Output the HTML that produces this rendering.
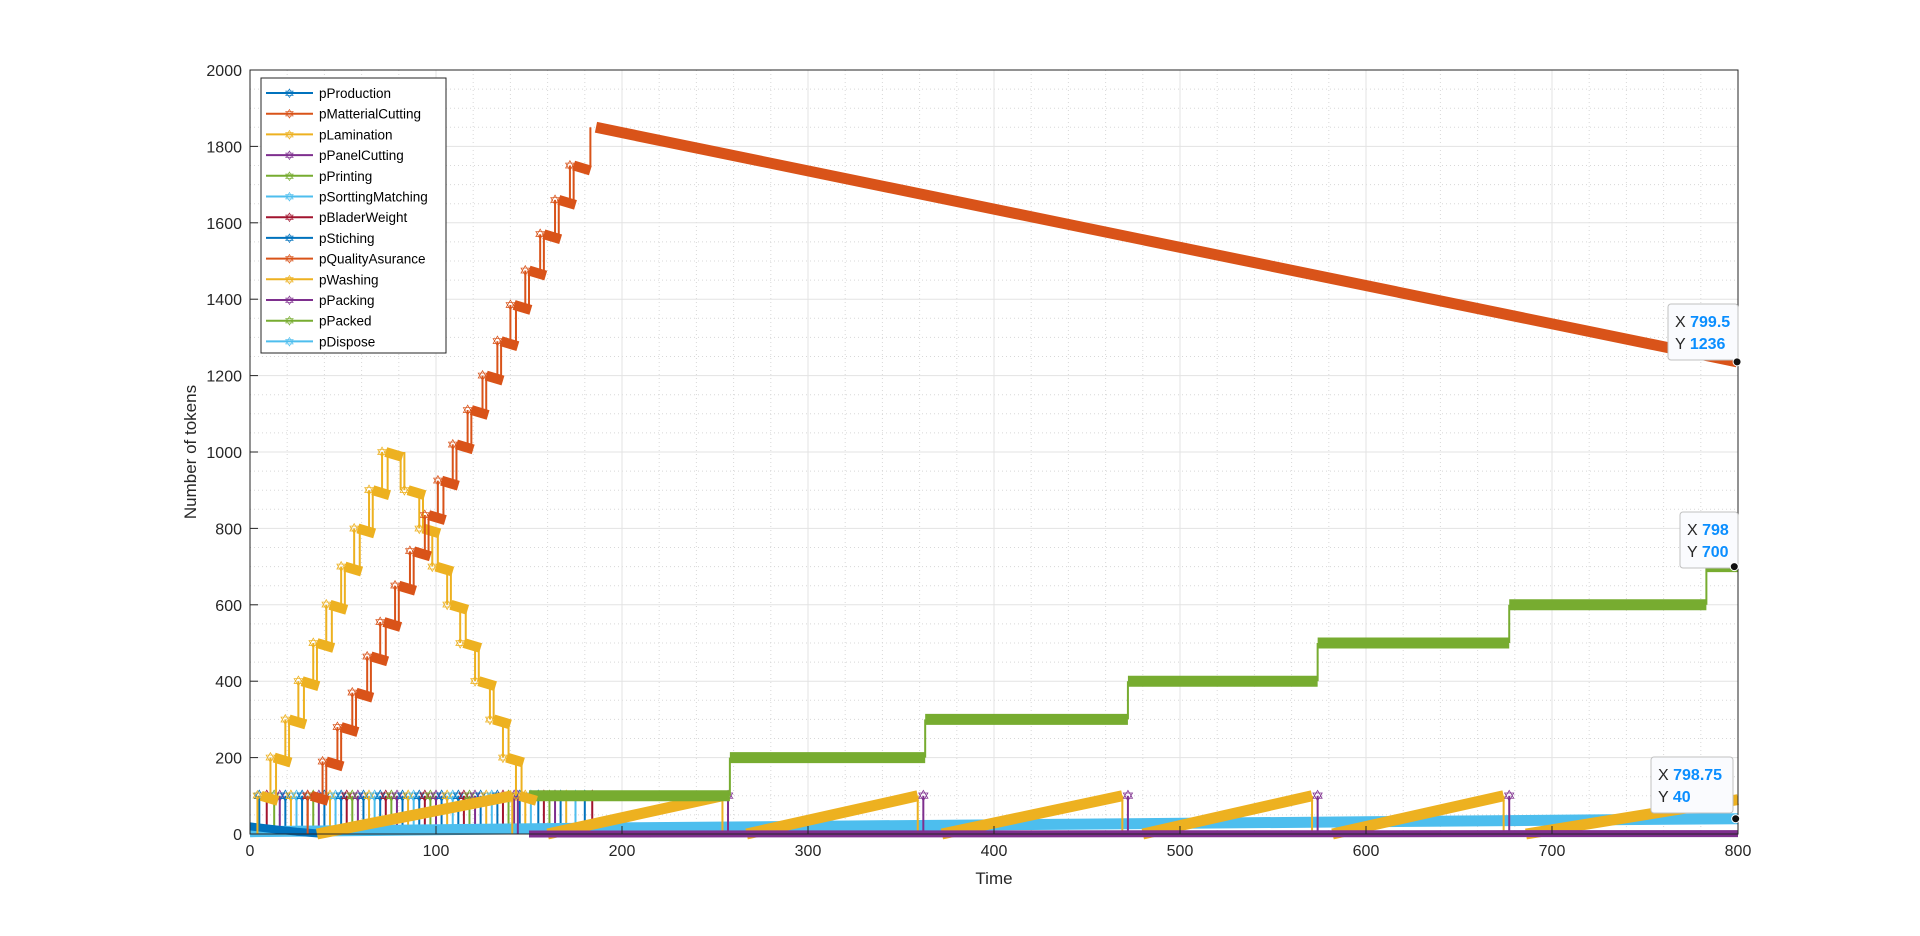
<!DOCTYPE html>
<html><head><meta charset="utf-8"><style>
html,body{margin:0;padding:0;background:#fff;width:1920px;height:936px;overflow:hidden}
svg{display:block;font-family:"Liberation Sans",sans-serif}
</style></head><body>
<svg id="chart" width="1920" height="936">
<rect x="250" y="70" width="1488" height="764" fill="#fff"/>
<g id="grid"></g><g id="series"></g><g id="axes"></g><g id="tips"></g><g id="legend"></g>
</svg>
<script>
// ---- data ----
const cutT=[32,40,48,56,64,71,79,87,95,102,110,118,126,134,141,149,157,165,173];
const cutV=[100,190,280,370,465,555,650,740,835,925,1020,1110,1200,1290,1385,1475,1570,1660,1750];
const cutPeakT=186, cutPeakV=1850, cutEndT=799.5, cutEndV=1236;
const lamT=[5,12,20,27,35,42,50,57,65,72,84,92,99,107,114,122,130,137,144];
const lamV=[100,200,300,400,500,600,700,800,900,1000,900,800,700,600,500,400,300,200,100];
const prT=[150,258,363,472,574,677,783];
const prV=[100,200,300,400,500,600,700];
const washStart=[36,160,267,372,480,582,686];
const washEnd=[141,254,359,469,571,674,800];
const washPeak=[100,100,100,100,100,100,90];
const sortT=[0,100,200,400,600,800];
const sortV=[6,11,16,24,32,40];
const packT=[150,800];
const packV=[0,1];
const prodT=[0,10,25,40];
const prodV=[20,14,6,0];
const stemT=[5,9,13,16,19,22,25,28,31,34,37,40,43,46,49,52,55,58,61,64,67,70,73,76,79,82,85,88,91,94,97,100,103,106,109,112,115,118,121,124,127,130,133,136,139,142,145,148,151,155,158,161,164,167,170,175,180,184];
const stemV=100;
const xTicks=[0,100,200,300,400,500,600,700,800];
const yTicks=[0,200,400,600,800,1000,1200,1400,1600,1800,2000];
const legendNames=["pProduction","pMatterialCutting","pLamination","pPanelCutting","pPrinting","pSorttingMatching","pBladerWeight","pStiching","pQualityAsurance","pWashing","pPacking","pPacked","pDispose"];
const legendColors=["#0072BD","#D95319","#EDB120","#7E2F8E","#77AC30","#4DBEEE","#A2142F","#0072BD","#D95319","#EDB120","#7E2F8E","#77AC30","#4DBEEE"];
const tipX=["799.5","798","798.75"];
const tipY=["1236","700","40"];
const tipT=[799.5,798,798.75];
const tipV=[1236,700,40];

const NS="http://www.w3.org/2000/svg";
const X0=250,X1=1738,Y0=834,Y1=70;
const sx=t=>X0+t*(X1-X0)/800;
const sy=v=>Y0-v*(Y0-Y1)/2000;
function mk(tag,attrs,parent){const e=document.createElementNS(NS,tag);for(const k in attrs)e.setAttribute(k,attrs[k]);parent.appendChild(e);return e;}
const grid=document.getElementById('grid'),ser=document.getElementById('series'),ax=document.getElementById('axes'),tips=document.getElementById('tips'),leg=document.getElementById('legend');

for(let t=20;t<800;t+=20){if(t%100){const l=mk('line',{x1:sx(t),x2:sx(t),y1:Y1,y2:Y0,stroke:'#d8d8d8','stroke-dasharray':'1 3'},grid);

}}
for(let v=50;v<2000;v+=50){if(v%200){const l=mk('line',{x1:X0,x2:X1,y1:sy(v),y2:sy(v),stroke:'#d8d8d8','stroke-dasharray':'1 3'},grid);

}}
xTicks.forEach(t=>{const l=mk('line',{x1:sx(t),x2:sx(t),y1:Y1,y2:Y0,stroke:'#e3e3e3'},grid);

});
yTicks.forEach(v=>{const l=mk('line',{x1:X0,x2:X1,y1:sy(v),y2:sy(v),stroke:'#e3e3e3'},grid);

});

function poly(pts,color,w,name){const p=mk('polyline',{points:pts.map(q=>q.join(',')).join(' '),fill:'none',stroke:color,'stroke-width':w,'stroke-linejoin':'round'},ser);

return p;}
function star(x,y,c,size,name){const m=mk('text',{x:x,y:y+size*0.36,'text-anchor':'middle','font-size':size,fill:c},ser);m.textContent='✡';

return m;}

const stemColors=["#0072BD","#A2142F","#77AC30","#7E2F8E","#0072BD","#EDB120","#4DBEEE"];
stemT.forEach((t,i)=>{const c=stemColors[i%stemColors.length];
const l=mk('line',{x1:sx(t),x2:sx(t),y1:sy(0),y2:sy(stemV),stroke:c,'stroke-width':2},ser);


star(sx(t),sy(stemV),c,17,'stem-marker');});

poly(sortT.map((t,i)=>[sx(t),sy(sortV[i])]),'#4DBEEE',11,'pSorttingMatching-line');
poly(prodT.map((t,i)=>[sx(t),sy(prodV[i])]),'#0072BD',8,'pProduction-line');

washStart.forEach((s,i)=>{poly([[sx(s),sy(0)],[sx(washEnd[i]),sy(washPeak[i])]],'#EDB120',11,'pWashing-ramp');
if(i<washStart.length-1){const l=mk('line',{x1:sx(washEnd[i]),x2:sx(washEnd[i]),y1:sy(washPeak[i]),y2:sy(0),stroke:'#EDB120','stroke-width':2},ser);


const l2=mk('line',{x1:sx(washEnd[i]+3),x2:sx(washEnd[i]+3),y1:sy(washPeak[i]),y2:sy(0),stroke:'#7E2F8E','stroke-width':2},ser);


star(sx(washEnd[i]+3),sy(washPeak[i]),'#7E2F8E',16,'pPacking-marker');}});

poly(packT.map((t,i)=>[sx(t),sy(packV[i])]),'#7E2F8E',7,'pPacking-line');

prT.forEach((t,i)=>{const end=i<prT.length-1?prT[i+1]:800;
poly([[sx(t),sy(prV[i])],[sx(end),sy(prV[i])]],'#77AC30',11,'pPrinting-plateau');
if(i<prT.length-1){const l=mk('line',{x1:sx(end),x2:sx(end),y1:sy(prV[i]),y2:sy(prV[i+1]),stroke:'#77AC30','stroke-width':2},ser);

}});

function stairs(T,V,color,name){T.forEach((t,i)=>{
const m=mk('line',{x1:sx(t-1),x2:sx(t-1),y1:sy(V[i]),y2:sy(i>0?V[i-1]:0),stroke:color,'stroke-width':2},ser);


const m2=mk('line',{x1:sx(t+9),x2:sx(t+9),y1:sy(V[i]),y2:sy(i<T.length-1?V[i+1]:V[i]),stroke:color,'stroke-width':2},ser);


poly([[sx(t+1),sy(V[i])],[sx(t+10),sy(V[i])+5]],color,10,name+'-plateau');
star(sx(t-1),sy(V[i]),color,15,name+'-marker');});}
stairs(lamT,lamV,'#EDB120','pLamination');
stairs(cutT,cutV.slice(0,cutT.length),'#D95319','pMatterialCutting');
const lastT=cutT[cutT.length-1]+10;
const sl=mk('line',{x1:sx(lastT),x2:sx(lastT),y1:sy(cutV[cutT.length-1]),y2:sy(cutPeakV),stroke:'#D95319','stroke-width':2},ser);


poly([[sx(cutPeakT),sy(cutPeakV)],[sx(cutEndT),sy(cutEndV)]],'#D95319',11,'pMatterialCutting-decline');

const box=mk('rect',{x:X0,y:Y1,width:X1-X0,height:Y0-Y1,fill:'none',stroke:'#262626','stroke-width':1},ax);


xTicks.forEach(t=>{const tl=mk('line',{x1:sx(t),x2:sx(t),y1:Y0,y2:Y0-8,stroke:'#262626'},ax);


const tx=mk('text',{x:sx(t),y:Y0+22,'text-anchor':'middle','font-size':16,fill:'#262626'},ax);tx.textContent=t;

});
yTicks.forEach(v=>{const tl=mk('line',{x1:X0,x2:X0+8,y1:sy(v),y2:sy(v),stroke:'#262626'},ax);


const tx=mk('text',{x:X0-8,y:sy(v)+6,'text-anchor':'end','font-size':16,fill:'#262626'},ax);tx.textContent=v;

});
const xl=mk('text',{x:(X0+X1)/2,y:884,'text-anchor':'middle','font-size':17,fill:'#262626'},ax);xl.textContent='Time';


const yl=mk('text',{x:0,y:0,transform:'translate(196,452) rotate(-90)','text-anchor':'middle','font-size':17,fill:'#262626'},ax);yl.textContent='Number of tokens';



const tipBoxes=[[1668,304],[1680,512],[1651,757]];
tipT.forEach((t,i)=>{const [bx,by]=tipBoxes[i];const w=i==2?82:(i==0?70:58);
const r=mk('rect',{x:bx,y:by,width:w,height:56,rx:3,fill:'#fafbfe',stroke:'#c0c0c0'},tips);


const a=mk('text',{x:bx+7,y:by+23,'font-size':16,fill:'#262626'},tips);a.innerHTML='X <tspan font-weight="bold" fill="#0a8eff">'+tipX[i]+'</tspan>';


const b=mk('text',{x:bx+7,y:by+45,'font-size':16,fill:'#262626'},tips);b.innerHTML='Y <tspan font-weight="bold" fill="#0a8eff">'+tipY[i]+'</tspan>';


const d=mk('circle',{cx:sx(t),cy:sy(tipV[i]),r:4,fill:'#111',stroke:'#fff','stroke-width':1},tips);

});

const lb=mk('rect',{x:261,y:78,width:185,height:275,fill:'#fff',stroke:'#262626'},leg);


legendNames.forEach((n,i)=>{const y=93+i*20.7;
const l=mk('line',{x1:266,x2:313,y1:y,y2:y,stroke:legendColors[i],'stroke-width':2},leg);


const m=mk('text',{x:289.5,y:y+5,'text-anchor':'middle','font-size':13,fill:legendColors[i]},leg);m.textContent='✡';


const t=mk('text',{x:319,y:y+5,'font-size':13.5,fill:'#000'},leg);t.textContent=n;

});
</script>
</body></html>
